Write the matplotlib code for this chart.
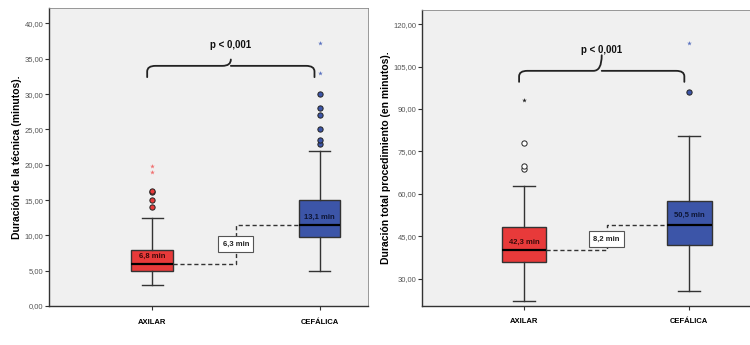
import matplotlib
matplotlib.use("Agg")
import matplotlib.pyplot as plt
import numpy as np
from matplotlib.path import Path
from matplotlib.patches import PathPatch
from matplotlib.ticker import FuncFormatter

plt.rcParams['font.family'] = ['Liberation Sans', 'DejaVu Sans']

# ============================================================
# DATA
# ============================================================
groups = ["AXILAR", "CEFÁLICA"]
box_colors = ["#E83A3A", "#3C55A8"]
label_colors = ["#3a0a0a", "#0d1533"]

# left panel: duración de la técnica
tec_q1 = [5.0, 9.8]
tec_med = [6.0, 11.5]
tec_q3 = [8.0, 15.0]
tec_wlo = [3.0, 5.0]
tec_whi = [12.5, 22.0]
tec_circles = [[14.0, 15.0, 16.1, 16.3], [23.0, 23.5, 25.0, 27.0, 28.0, 30.0]]
tec_stars = [[19.0, 19.8], [33.0, 37.2]]
tec_mean_labels = ["6,8 min", "13,1 min"]
tec_mean_y = [7.0, 12.5]
tec_diff_label = "6,3 min"
tec_diff_y = 8.8

# right panel: duración total del procedimiento
tot_q1 = [36.0, 42.0]
tot_med = [40.0, 49.0]
tot_q3 = [48.4, 57.6]
tot_wlo = [22.1, 25.7]
tot_whi = [62.9, 80.5]
tot_circles = [[68.9, 69.9, 78.1], [96.1]]
tot_stars = [[93.1], [113.2]]
tot_mean_labels = ["42,3 min", "50,5 min"]
tot_mean_y = [42.9, 52.4]
tot_diff_label = "8,2 min"
tot_diff_y = 44.1

p_text = "p < 0,001"

fig = plt.figure(figsize=(7.5, 3.45), dpi=100)
fig.patch.set_facecolor("white")


def comma_fmt(v, pos):
    return f"{v:.2f}".replace(".", ",")


def brace(ax, x0, x1, y_end, y_bar, y_tip):
    xm = (x0 + x1) / 2
    rx = 0.05
    ry = (y_bar - y_end) * 0.5
    tip = (y_tip - y_bar)
    verts = [(x0, y_end), (x0, y_bar - ry), (x0, y_bar), (x0 + rx, y_bar),
             (xm - rx, y_bar), (xm, y_bar), (xm, y_bar + tip),
             (xm, y_bar), (xm + rx, y_bar),
             (x1 - rx, y_bar), (x1, y_bar), (x1, y_bar - ry), (x1, y_end)]
    codes = [Path.MOVETO, Path.LINETO, Path.CURVE3, Path.CURVE3,
             Path.LINETO, Path.CURVE3, Path.CURVE3,
             Path.MOVETO, Path.LINETO,
             Path.LINETO, Path.CURVE3, Path.CURVE3, Path.LINETO]
    ax.add_patch(PathPatch(Path(verts, codes), fill=False, lw=1.3,
                           edgecolor="#222222", capstyle="round"))


def panel(ax, q1, med, q3, wlo, whi, circles, stars, star_cols, circ_fill,
          mean_labels, mean_y, diff_label, diff_y, bw, brace_y, p_y,
          ylabel, yticks, ylim, xlim):
    ax.set_facecolor("#F0F0F0")
    pos = [1, 2]
    stats = []
    for i in range(2):
        stats.append(dict(med=med[i], q1=q1[i], q3=q3[i],
                          whislo=wlo[i], whishi=whi[i], fliers=[]))
    bp = ax.bxp(stats, positions=pos, widths=bw, patch_artist=True,
                showfliers=False,
                medianprops=dict(color="black", lw=1.6),
                whiskerprops=dict(color="#333333", lw=1.0),
                capprops=dict(color="#333333", lw=1.0),
                boxprops=dict(lw=1.0), capwidths=bw / 2)
    for patch, col in zip(bp["boxes"], box_colors):
        patch.set_facecolor(col)
        patch.set_edgecolor("#333333")

    for i in range(2):
        ax.plot([pos[i]] * len(circles[i]), circles[i], "o", ms=3.8,
                mfc=circ_fill[i], mec="#222222", mew=0.7, zorder=3)
        ax.plot([pos[i]] * len(stars[i]), stars[i], "*", ms=3.5,
                color=star_cols[i], mew=0, zorder=3)
        ax.text(pos[i], mean_y[i], mean_labels[i], ha="center", va="center",
                fontsize=5.5, fontweight="bold", color=label_colors[i], zorder=4)

    # dashed connector between medians
    xm = 1.5
    ax.plot([pos[0] + bw / 2, xm, xm, pos[1] - bw / 2],
            [med[0], med[0], med[1], med[1]], ls=(0, (3, 2)), lw=1.0,
            color="#333333", zorder=2)
    ax.text(xm, diff_y, diff_label, ha="center", va="center", fontsize=5.5,
            fontweight="bold", color="#222222", zorder=4,
            bbox=dict(boxstyle="square,pad=0.55", fc="white", ec="#555555", lw=0.8))

    # significance brace
    brace(ax, 0.97, 1.97, brace_y[0], brace_y[1], brace_y[2])
    ax.text(1.47, p_y, p_text, ha="center", va="center", fontsize=7,
            fontweight="bold", color="#111111")

    ax.set_xlim(xlim)
    ax.set_ylim(ylim)
    ax.set_yticks(yticks)
    ax.yaxis.set_major_formatter(FuncFormatter(comma_fmt))
    ax.set_xticks(pos)
    ax.set_xticklabels(groups, fontsize=5.5, fontweight="bold")
    ax.tick_params(axis="y", labelsize=5.5, labelcolor="#555555", length=3,
                   width=0.8, color="#333333", pad=1)
    ax.tick_params(axis="x", length=3, width=0.8, color="#333333", pad=6)
    ax.set_ylabel(ylabel, fontsize=7.5, fontweight="bold", labelpad=2)
    for s in ["left", "bottom"]:
        ax.spines[s].set_color("#333333")
        ax.spines[s].set_linewidth(1.0)
    for s in ["top", "right"]:
        ax.spines[s].set_color("#888888")
        ax.spines[s].set_linewidth(0.6)


ax1 = fig.add_axes([0.0653, 0.113, 0.4254, 0.864])
panel(ax1, tec_q1, tec_med, tec_q3, tec_wlo, tec_whi, tec_circles, tec_stars,
      ["#F07070", "#5A72C0"], box_colors, tec_mean_labels, tec_mean_y,
      tec_diff_label, tec_diff_y, 0.25, (32.4, 34.0, 34.9), 37.0,
      "Duración de la técnica (minutos).", np.arange(0, 45, 5), (0, 42.2),
      (0.383, 2.29))

ax2 = fig.add_axes([0.563, 0.114, 0.442, 0.857])
panel(ax2, tot_q1, tot_med, tot_q3, tot_wlo, tot_whi, tot_circles, tot_stars,
      ["#222222", "#5A72C0"], ["white", box_colors[1]], tot_mean_labels,
      tot_mean_y, tot_diff_label, tot_diff_y, 0.27, (99.6, 103.5, 109.0),
      110.8, "Duración total procedimiento (en minutos).",
      np.arange(30, 125, 15), (20.5, 125.0), (0.384, 2.39))

fig.savefig("out.png", dpi=100, facecolor="white")
